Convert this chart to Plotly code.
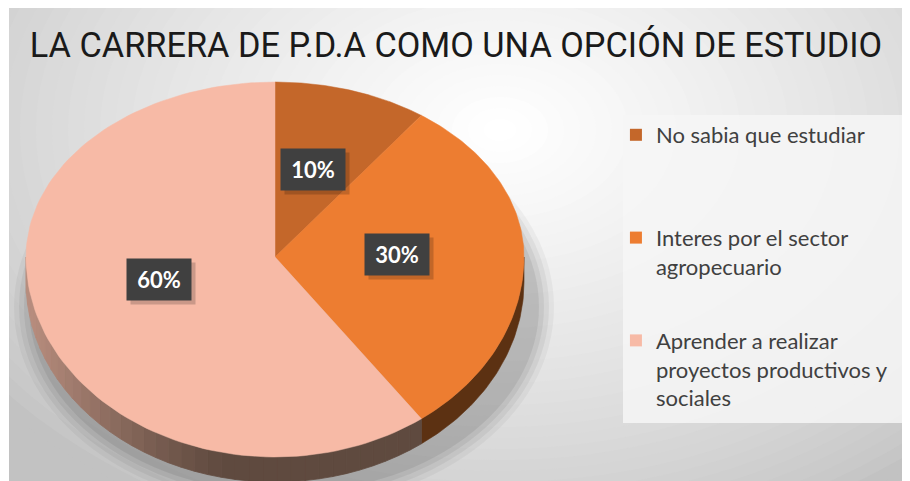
import numpy as np
import plotly.graph_objects as go

# ---- data ----
categories = ["No sabia que estudiar", "Interes por el sector agropecuario",
              "Aprender a realizar proyectos productivos y sociales"]
legend_labels = ["No sabia que estudiar<br> <br> ",
                 "Interes por el sector<br>agropecuario<br> ",
                 "Aprender a realizar<br>proyectos productivos y<br>sociales"]
values = [10, 30, 60]
title_text = "LA CARRERA DE P.D.A COMO UNA OPCIÓN DE ESTUDIO"

# ---- styling / geometry (axis units = page pixels) ----
top_colors = ["#c4672a", "#ed7d31", "#f7baa6"]
side_colors = ["#5a3010", "#5c3112", None]
W, H = 902, 473          # page has an 8px body margin
cx, cy, rx, ry_top, ry_bot, depth = 275, 257, 249, 175, 200, 25


def pt(theta_deg):
    t = np.radians(theta_deg)
    c = np.cos(t)
    ry = np.where(c > 0, ry_top, ry_bot)
    return cx + rx * np.sin(t), cy - ry * c


def mix(c1, c2, t):
    a = [int(c1[i:i + 2], 16) for i in (1, 3, 5)]
    b = [int(c2[i:i + 2], 16) for i in (1, 3, 5)]
    return "rgb(%d,%d,%d)" % tuple(round(a[k] + (b[k] - a[k]) * t) for k in range(3))


fig = go.Figure()

# background radial gradient (approximated with concentric ellipses)
shapes = []
n = 40
for i in range(n):
    f = 1 - i / n
    shapes.append(dict(type="circle", xref="x", yref="y", layer="below",
                       x0=500 - 640 * f, x1=500 + 640 * f,
                       y0=130 - 440 * f, y1=130 + 440 * f,
                       fillcolor=mix("#c2c2c2", "#ffffff", (i / (n - 1)) ** 0.75),
                       line=dict(width=0)))
# soft shadow under pie
for k, a in enumerate([0.04, 0.05, 0.06, 0.07]):
    g = 16 - 5 * k
    shapes.append(dict(type="circle", xref="x", yref="y", layer="below",
                       x0=cx - rx + 4 - g, x1=cx + rx + 14 + g,
                       y0=cy - ry_top + 40 - g, y1=cy + ry_bot + depth + 10 + g,
                       fillcolor="rgba(0,0,0,%.2f)" % a, line=dict(width=0)))
# legend panel
shapes.append(dict(type="rect", xref="x", yref="y", layer="below",
                   x0=623, x1=905, y0=115, y1=423,
                   fillcolor="rgba(246,246,246,0.85)", line=dict(width=0)))

# slice angles from values
total = sum(values)
bounds = np.concatenate([[0], np.cumsum(values) / total * 360])

# sides (front half only: theta 90..270)
for i in range(len(values)):
    a0, a1 = max(bounds[i], 90), min(bounds[i + 1], 270)
    if a1 <= a0:
        continue
    if side_colors[i] is not None:
        th = np.linspace(a0, a1, 60)
        x, y = pt(th)
        xs = np.concatenate([x, x[::-1], [x[0]]])
        ys = np.concatenate([y, (y + depth)[::-1], [y[0]]])
        fig.add_trace(go.Scatter(x=xs, y=ys, fill="toself", mode="lines",
                                 fillcolor=side_colors[i], line=dict(width=0.6, color=side_colors[i]),
                                 showlegend=False, hoverinfo="skip"))
    else:
        segs = np.linspace(a0, a1, 40)
        for s0, s1 in zip(segs[:-1], segs[1:]):
            th = np.linspace(s0, s1, 6)
            x, y = pt(th)
            xm = x.mean()
            t = float(np.clip((230 - xm) / 200, 0, 1)) ** 1.3
            col = mix("#5f4a3f", "#b88d7e", t)
            xs = np.concatenate([x, x[::-1], [x[0]]])
            ys = np.concatenate([y, (y + depth)[::-1], [y[0]]])
            fig.add_trace(go.Scatter(x=xs, y=ys, fill="toself", mode="lines",
                                     fillcolor=col, line=dict(width=0.8, color=col),
                                     showlegend=False, hoverinfo="skip"))

# top faces
for i in range(len(values)):
    th = np.linspace(bounds[i], bounds[i + 1], 120)
    x, y = pt(th)
    xs = np.concatenate([[cx], x, [cx]])
    ys = np.concatenate([[cy], y, [cy]])
    fig.add_trace(go.Scatter(x=xs, y=ys, fill="toself", mode="lines",
                             fillcolor=top_colors[i], line=dict(width=0.5, color=top_colors[i]),
                             name=categories[i], showlegend=False,
                             hovertemplate=categories[i] + ": %d%%<extra></extra>" % values[i]))

# legend entries
for i in range(len(values)):
    fig.add_trace(go.Scatter(x=[None], y=[None], mode="markers",
                             marker=dict(symbol="square", size=12, color=top_colors[i]),
                             name=legend_labels[i], legendgroup="g%d" % i))

# data labels
annotations = []
for i in range(len(values)):
    m = (bounds[i] + bounds[i + 1]) / 2
    t = np.radians(m)
    c = np.cos(t)
    fy = 0.51 * ry_top if c > 0 else 0.41 * ry_bot
    lx = cx + 0.49 * rx * np.sin(t)
    ly = cy - 3 - fy * c
    annotations.append(dict(x=lx + 4, y=ly + 4, xref="x", yref="y", text=" ",
                            showarrow=False, width=60, height=37, borderpad=2,
                            bgcolor="rgba(0,0,0,0.18)"))
    annotations.append(dict(x=lx, y=ly, xref="x", yref="y",
                            text="<b>%d%%</b>" % round(values[i] / total * 100),
                            showarrow=False, width=60, height=37, borderpad=2,
                            bgcolor="#404040",
                            font=dict(family="Lato", size=22, color="white")))

fig.update_layout(
    width=W, height=H,
    margin=dict(l=1, r=5, t=0, b=0),
    paper_bgcolor="white",
    plot_bgcolor="#c2c2c2",
    shapes=shapes,
    annotations=annotations,
    title=dict(text=title_text, x=0.5 - 3 / W, xanchor="center", y=1 - 37 / H, yanchor="middle",
               font=dict(family="Roboto", size=34.3, color="#1a1a1a")),
    xaxis=dict(range=[9, 905], visible=False, fixedrange=True),
    yaxis=dict(range=[481, 8], visible=False, fixedrange=True),
    legend=dict(x=611 / W, xanchor="left", y=1 - 106 / H, yanchor="top",
                bgcolor="rgba(0,0,0,0)", valign="top", tracegroupgap=14,
                font=dict(family="Lato", size=22, color="#404040")),
    showlegend=True,
)

fig.write_html("out.html")
